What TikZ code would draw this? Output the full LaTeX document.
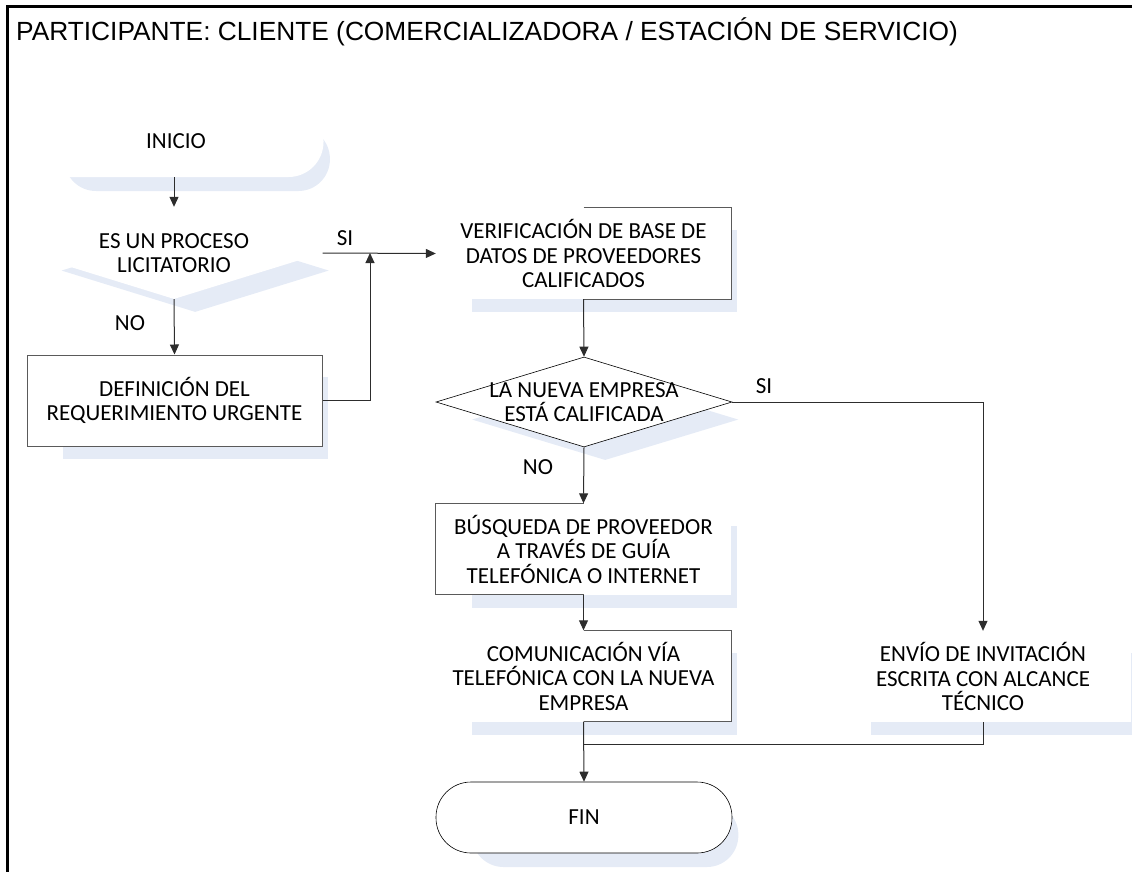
\documentclass[tikz,border=0pt]{standalone}
\usepackage{fontspec}
\setmainfont{Carlito}
\newfontfamily\hdrfont{Liberation Sans}
\usetikzlibrary{shapes.geometric,shadows,arrows.meta}
\definecolor{shadowc}{RGB}{229,235,246}
\definecolor{linec}{RGB}{45,45,45}
\definecolor{bordc}{RGB}{90,90,90}
\newcommand{\bodyfont}{\fontsize{23}{24.5}\selectfont}
\tikzset{
  shd/.style={general shadow={fill=shadowc, shadow scale=0.9, shadow xshift=23.5pt, shadow yshift=-19.5pt}},
  boxshape/.style={rectangle, shd, fill=white, minimum width=295pt, minimum height=91pt, inner sep=0pt, align=center, font=\bodyfont},
  termshape/.style={rectangle, rounded corners=35pt, shd, fill=white, minimum width=295pt, minimum height=71pt, inner sep=0pt, align=center, font=\bodyfont},
  diashape/.style={diamond, shd, fill=white, minimum width=297pt, minimum height=92pt, inner sep=0pt},
  txt/.style={font=\bodyfont, align=center, inner sep=0pt},
  conn/.style={draw=linec, line width=1pt, -{Triangle[length=10pt,width=9pt]}},
  plain/.style={draw=linec, line width=1pt},
  bord/.style={draw=bordc, line width=1pt},
  lab/.style={font=\bodyfont, inner sep=0pt}
}
\begin{document}
\begin{tikzpicture}[x=1pt,y=-1pt]
\useasboundingbox (0,0) rectangle (1132,871);
\clip (0,0) rectangle (1132,871);
% frame
\draw[line width=3pt, black] (7,875) -- (7,6) -- (1140,6);
\node[anchor=base west, font=\hdrfont\fontsize{26.3}{30}\selectfont, inner sep=0pt] (hdr) at (16,40) {PARTICIPANTE: CLIENTE (COMERCIALIZADORA / ESTACIÓN DE SERVICIO)};
% nodes
\node[termshape] (ini) at (176,141.5) {INICIO};
\node[diashape, label={[txt]center:{ES UN PROCESO\\LICITATORIO}}] (d1) at (174,253) {};
\node[boxshape, draw=bordc, line width=1pt] (def) at (174.5,400.5) {DEFINICIÓN DEL\\REQUERIMIENTO URGENTE};
\node[boxshape] (ver) at (583.5,253.5) {VERIFICACIÓN DE BASE DE\\DATOS DE PROVEEDORES\\CALIFICADOS};
\node[diashape, minimum width=296pt, minimum height=90pt, draw=black, line width=0.6pt, label={[txt]center:{LA NUEVA EMPRESA\\ESTÁ CALIFICADA}}] (d2) at (584,402) {};
\node[boxshape] (bus) at (583.5,549) {BÚSQUEDA DE PROVEEDOR\\A TRAVÉS DE GUÍA\\TELEFÓNICA O INTERNET};
\node[boxshape] (com) at (583.5,676) {COMUNICACIÓN VÍA\\TELEFÓNICA CON LA NUEVA\\EMPRESA};
\node[boxshape] (env) at (983,676.5) {ENVÍO DE INVITACIÓN\\ESCRITA CON ALCANCE\\TÉCNICO};
\node[termshape, minimum width=296pt, draw=black, line width=0.6pt] (fin) at (584,817.5) {FIN};
% partial borders
\draw[bord] (ver.north) -| (ver.south east) -- (ver.south);
\draw[bord] (bus.north) -| (bus.south west) -- (bus.south);
\draw[bord] (com.north) -| (com.south east) -- (com.south);
% connectors
\coordinate (j1) at (370,253);
\coordinate (j2) at (584,744);
\draw[conn] (ini.south -| d1.north) -- (d1.north);
\draw[conn] (d1.south) -- (def.north);
\draw[conn] (d1.east) -- (ver.west);
\draw[conn] (def.east) -| (j1);
\draw[conn] (ver.south) -- (d2.north);
\draw[conn] (d2.south) -- (bus.north);
\draw[conn] (d2.east) -| (env.north);
\draw[conn] (bus.south) -- (com.north);
\draw[conn] (com.south) -- (fin.north);
\draw[plain] (env.south) |- (j2);
% labels
\node[lab] (si1) at (345,238) {SI};
\node[lab] (no1) at (130,323) {NO};
\node[lab] (si2) at (764,386) {SI};
\node[lab] (no2) at (538,467) {NO};
\end{tikzpicture}
\end{document}
